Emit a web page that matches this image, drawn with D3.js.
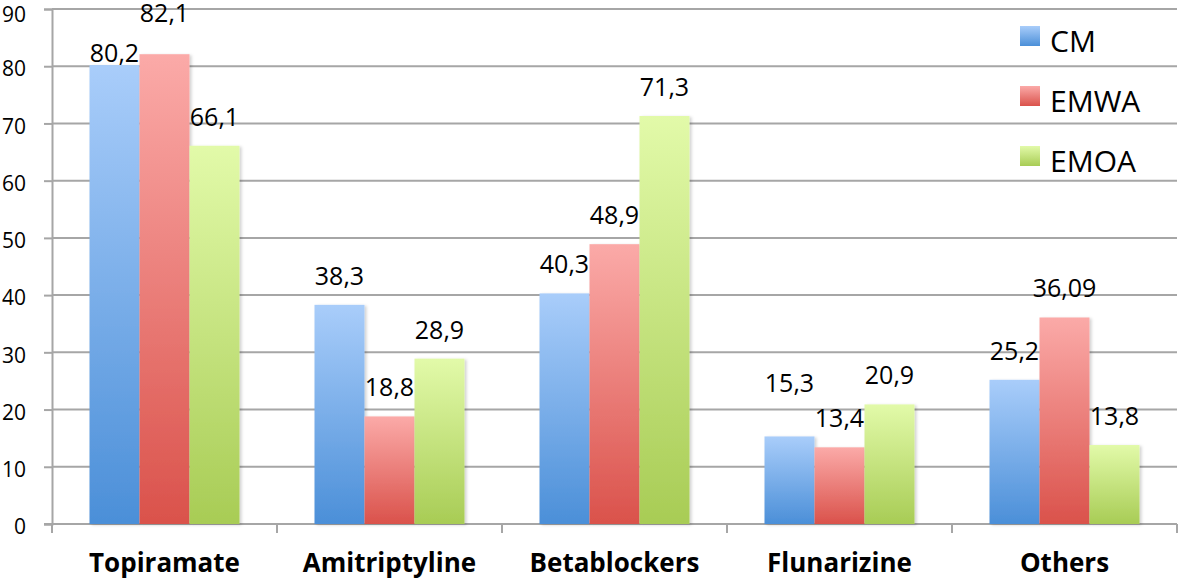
<!DOCTYPE html>
<html>
<head>
<meta charset="utf-8">
<script src="https://cdn.jsdelivr.net/npm/d3@7"></script>
<style>
  html, body { margin: 0; padding: 0; background: #fff; }
  svg { display: block; font-family: "Open Sans", sans-serif; }
</style>
</head>
<body>
<svg id="chart" width="1181" height="585"></svg>
<script>
var categories = ['Topiramate', 'Amitriptyline', 'Betablockers', 'Flunarizine', 'Others'];
var seriesNames = ['CM', 'EMWA', 'EMOA'];
var cmValues = [80.2, 38.3, 40.3, 15.3, 25.2];
var emwaValues = [82.1, 18.8, 48.9, 13.4, 36.09];
var emoaValues = [66.1, 28.9, 71.3, 20.9, 13.8];
var cmLabels = ['80,2', '38,3', '40,3', '15,3', '25,2'];
var emwaLabels = ['82,1', '18,8', '48,9', '13,4', '36,09'];
var emoaLabels = ['66,1', '28,9', '71,3', '20,9', '13,8'];
var yTicks = [0, 10, 20, 30, 40, 50, 60, 70, 80, 90];

// top / bottom colours of each series gradient
var gradients = {
  CM: ['#a9cdfa', '#4b8fd8'],
  EMWA: ['#fbaaa8', '#da524b'],
  EMOA: ['#e2faa9', '#a8cc55']
};

// labels that were dragged away from the bar end in the original
var labelShift = {
  'CM|Topiramate': 17,
  'EMWA|Topiramate': -12,
  'CM|Flunarizine': -24
};

var series = [
  { name: 'CM', values: cmValues, labels: cmLabels },
  { name: 'EMWA', values: emwaValues, labels: emwaLabels },
  { name: 'EMOA', values: emoaValues, labels: emoaLabels }
];

var svg = d3.select('#chart');
var plotLeft = 52, plotRight = 1177, plotTop = 9, plotBottom = 524;

var x = d3.scaleBand()
  .domain(categories)
  .range([plotLeft, plotRight])
  .paddingInner(1 / 3)
  .paddingOuter(1 / 6);

var x1 = d3.scaleBand()
  .domain(seriesNames)
  .range([0, x.bandwidth()]);

var y = d3.scaleLinear()
  .domain([0, 90])
  .range([plotBottom, plotTop]);

var defs = svg.append('defs');
seriesNames.forEach(function (name) {
  var g = defs.append('linearGradient')
    .attr('id', 'grad-' + name)
    .attr('x1', 0).attr('y1', 0)
    .attr('x2', 0).attr('y2', 1);
  g.append('stop').attr('offset', '0%').attr('stop-color', gradients[name][0]);
  g.append('stop').attr('offset', '100%').attr('stop-color', gradients[name][1]);
});

var shadow = defs.append('filter')
  .attr('id', 'shadow')
  .attr('x', '-20%').attr('y', '-10%')
  .attr('width', '140%').attr('height', '120%');
shadow.append('feDropShadow')
  .attr('dx', 2).attr('dy', 1)
  .attr('stdDeviation', 1.5)
  .attr('flood-color', '#000')
  .attr('flood-opacity', 0.18);

// gridlines
svg.append('g')
  .selectAll('line')
  .data(yTicks.slice(1))
  .enter()
  .append('line')
  .attr('x1', plotLeft)
  .attr('x2', plotRight)
  .attr('y1', function (d) { return y(d); })
  .attr('y2', function (d) { return y(d); })
  .attr('stroke', '#a6a6a6')
  .attr('stroke-width', 2);

// y axis
var yAxis = svg.append('g')
  .attr('transform', 'translate(' + plotLeft + ',0)')
  .call(d3.axisLeft(y).tickValues(yTicks).tickSize(8).tickPadding(18));
yAxis.select('.domain').attr('stroke', '#a6a6a6').attr('stroke-width', 2);
yAxis.selectAll('.tick line').attr('stroke', '#a6a6a6').attr('stroke-width', 2);
yAxis.selectAll('.tick text')
  .attr('font-family', '"Open Sans", sans-serif')
  .attr('font-size', '21px')
  .attr('y', function (d) { return d === 90 ? 6 : 3; })
  .attr('fill', '#000');

// x axis line and boundary ticks
svg.append('line')
  .attr('x1', plotLeft - 8).attr('x2', plotRight)
  .attr('y1', plotBottom).attr('y2', plotBottom)
  .attr('stroke', '#a6a6a6')
  .attr('stroke-width', 2);

var bounds = d3.range(categories.length + 1).map(function (i) {
  return plotLeft + i * x.step();
});
svg.append('g')
  .selectAll('line')
  .data(bounds)
  .enter()
  .append('line')
  .attr('x1', function (d) { return d; })
  .attr('x2', function (d) { return d; })
  .attr('y1', plotBottom)
  .attr('y2', plotBottom + 9)
  .attr('stroke', '#a6a6a6')
  .attr('stroke-width', 2);

svg.append('g')
  .selectAll('text')
  .data(categories)
  .enter()
  .append('text')
  .text(function (d) { return d; })
  .attr('x', function (d) { return x(d) + x.bandwidth() / 2; })
  .attr('y', 572)
  .attr('text-anchor', 'middle')
  .attr('font-weight', 'bold')
  .attr('font-size', '26px')
  .attr('fill', '#000');

// bars
series.forEach(function (s) {
  var g = svg.append('g');

  g.selectAll('rect')
    .data(s.values)
    .enter()
    .append('rect')
    .attr('x', function (d, i) { return x(categories[i]) + x1(s.name); })
    .attr('y', function (d) { return y(d); })
    .attr('width', x1.bandwidth())
    .attr('height', function (d) { return plotBottom - y(d); })
    .attr('fill', 'url(#grad-' + s.name + ')')
    .attr('filter', 'url(#shadow)');
});

// value labels drawn after all bars
series.forEach(function (s) {
  svg.append('g')
    .selectAll('text')
    .data(s.values)
    .enter()
    .append('text')
    .text(function (d, i) { return s.labels[i]; })
    .attr('x', function (d, i) {
      return x(categories[i]) + x1(s.name) + x1.bandwidth() / 2;
    })
    .attr('y', function (d, i) {
      var shift = labelShift[s.name + '|' + categories[i]] || 0;
      return y(d) - 20 + shift;
    })
    .attr('text-anchor', 'middle')
    .attr('font-size', '25px')
    .attr('fill', '#000');
});

// legend
var legend = svg.append('g')
  .selectAll('g')
  .data(seriesNames)
  .enter()
  .append('g')
  .attr('transform', function (d, i) {
    return 'translate(1020,' + (26 + i * 60) + ')';
  });

legend.append('rect')
  .attr('width', 20)
  .attr('height', 20)
  .attr('fill', function (d) { return 'url(#grad-' + d + ')'; });

legend.append('text')
  .text(function (d) { return d; })
  .attr('x', 30)
  .attr('y', 26)
  .attr('font-size', '30px')
  .attr('fill', '#000');
</script>
</body>
</html>
